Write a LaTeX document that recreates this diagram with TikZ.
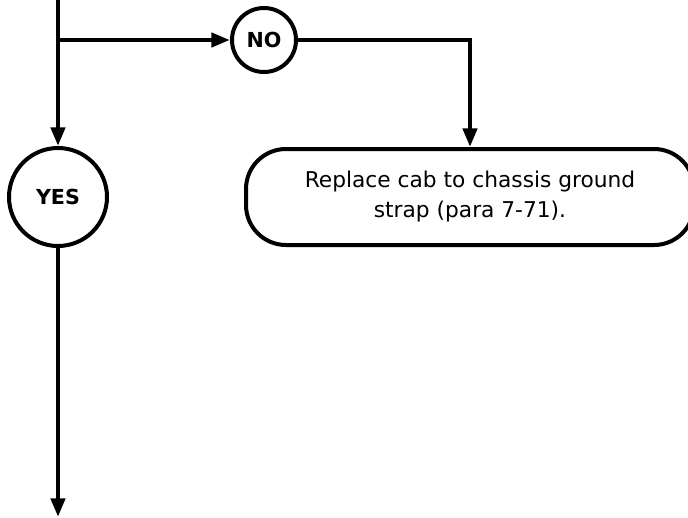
\documentclass[tikz,border=0pt]{standalone}
\usepackage{fontspec}
\setmainfont{DejaVu Sans}
\usetikzlibrary{arrows.meta}

\begin{document}
\begin{tikzpicture}[
			x=0.75pt, y=-0.75pt,
			answer/.style={
				circle,
				draw,
				line width=3pt,
				inner sep=0pt,
				font=\fontsize{15.5}{18}\selectfont\bfseries
			},
			action/.style={
				draw,
				line width=3pt,
				rounded corners=30pt,
				minimum width=336pt,
				minimum height=72pt,
				align=center,
				font=\fontsize{16.3}{22.5}\selectfont
			},
			edge/.style={
				line width=3.3pt,
				-{Triangle[length=14pt,width=10.5pt]}
			},
			line/.style={
				line width=3.3pt
			}
			]
			\useasboundingbox (0,0) rectangle (688,517);
			\coordinate (top) at (58,0);
			\coordinate (split) at (58,40);
			\coordinate (turn) at (470,40);
			\coordinate (bottom) at (58,517);
			\node[answer, minimum size=48pt] (no) at (264,40) {NO};
			\node[answer, minimum size=73.5pt] (yes) at (58,197) {YES};
			\node[action] (fix) at (470,197) {Replace cab to chassis ground\\strap (para 7-71).};
			\draw[line] (top) -- (split);
			\draw[edge] (split) -- (no);
			\draw[edge] (split) -- (yes);
			\draw[edge] (no) -- (turn) -- (fix);
			\draw[edge] (yes) -- (bottom);
		\end{tikzpicture}
\end{document}
